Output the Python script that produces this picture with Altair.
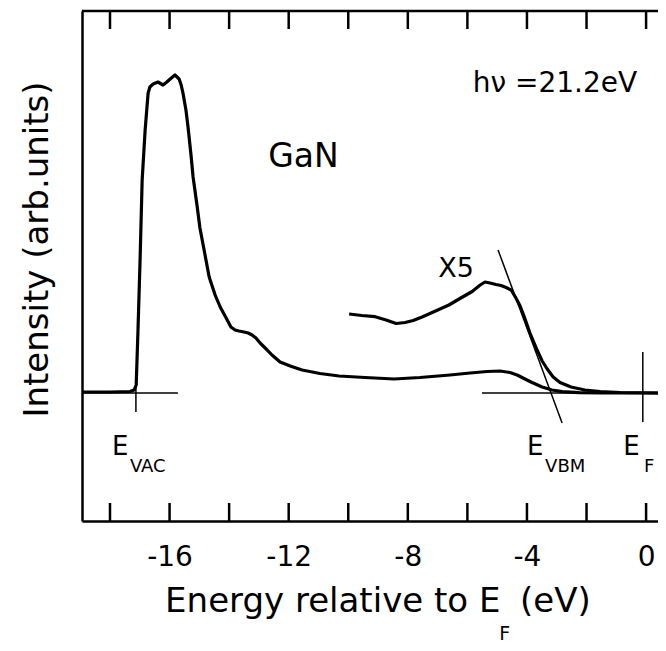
import altair as alt
import pandas as pd

# ---- data (energy in eV, intensity in arb. units) ----
energy_main = [-18.94, -18.00, -17.33, -17.19, -17.12, -17.06, -16.99, -16.92, -16.82, -16.72,
               -16.66, -16.55, -16.39, -16.22, -16.09, -15.98, -15.82, -15.68, -15.61, -15.55,
               -15.45, -15.38, -15.28, -15.21, -15.08, -14.98, -14.84, -14.67, -14.47, -14.30,
               -14.10, -13.94, -13.80, -13.67, -13.50, -13.36, -13.23, -13.10, -12.96, -12.79,
               -12.56, -12.29, -11.95, -11.55, -10.95, -10.31, -9.44, -8.46, -7.59, -6.58,
               -5.91, -5.34, -4.90, -4.57, -4.33, -4.10, -3.83, -3.49, -3.16, -2.82,
               -2.25, -1.54, -0.87, 0.40]
intensity_main = [0.01, 0.01, 0.015, 0.03, 0.08, 0.63, 1.33, 2.13, 2.63, 3.00,
                  3.06, 3.09, 3.11, 3.08, 3.11, 3.14, 3.18, 3.14, 3.08, 3.00,
                  2.83, 2.66, 2.38, 2.16, 1.88, 1.65, 1.43, 1.16, 0.98, 0.86,
                  0.75, 0.66, 0.63, 0.62, 0.61, 0.60, 0.58, 0.55, 0.50, 0.45,
                  0.38, 0.31, 0.27, 0.23, 0.195, 0.17, 0.155, 0.14, 0.155, 0.18,
                  0.20, 0.215, 0.22, 0.205, 0.18, 0.145, 0.105, 0.06, 0.03, 0.013,
                  0.004, 0.0, 0.0, 0.0]

energy_x5 = [-9.97, -9.54, -9.10, -8.73, -8.39, -8.09, -7.82, -7.52, -7.22, -6.92,
             -6.62, -6.25, -5.84, -5.57, -5.41, -5.24, -5.04, -4.87, -4.70, -4.53,
             -4.37, -4.23, -4.10, -3.90, -3.66, -3.49, -3.32, -3.12, -2.89, -2.52,
             -2.05, -1.54, -0.87, 0.40]
intensity_x5 = [0.79, 0.775, 0.763, 0.73, 0.695, 0.705, 0.725, 0.76, 0.80, 0.84,
                0.88, 0.945, 1.015, 1.08, 1.11, 1.10, 1.085, 1.075, 1.055, 1.03,
                0.95, 0.87, 0.77, 0.60, 0.43, 0.32, 0.24, 0.16, 0.105, 0.06,
                0.03, 0.015, 0.005, 0.0]

tangent_energy = [-4.97, -2.82]
tangent_intensity = [1.43, -0.30]

tick_values = [-18, -16, -14, -12, -10, -8, -6, -4, -2, 0]
label_values = [-16, -12, -8, -4, 0]

X_DOM = [-18.94, 0.40]
Y_DOM = [-1.28, 3.82]
FONT = "DejaVu Sans"
TICK_LEN = 0.18

xs = alt.Scale(domain=X_DOM, nice=False, zero=False)
ys = alt.Scale(domain=Y_DOM, nice=False, zero=False)

main_df = pd.DataFrame({"E": energy_main, "I": intensity_main})
x5_df = pd.DataFrame({"E": energy_x5, "I": intensity_x5})
tan_df = pd.DataFrame({"E": tangent_energy, "I": tangent_intensity})
tick_df = pd.DataFrame({"E": tick_values})

x_axis = alt.Axis(values=label_values, ticks=False, grid=False, domain=True,
                  domainWidth=2.5, domainColor="black", labelFont=FONT,
                  labelFontSize=28, labelColor="black", labelPadding=22,
                  labelExpr="toString(datum.value)", title=None)
y_axis = alt.Axis(ticks=False, labels=False, grid=False, domain=True,
                  domainWidth=2.5, domainColor="black",
                  title="Intensity  (arb.units)", titleFont=FONT, titleFontSize=34,
                  titleFontWeight="normal", titleColor="black", titleAngle=270,
                  titleAlign="center", titleBaseline="middle", titleX=-45, titleY=238)

main = alt.Chart(main_df).mark_line(color="black", strokeWidth=3.2, strokeJoin="round").encode(
    x=alt.X("E:Q", scale=xs, axis=x_axis),
    y=alt.Y("I:Q", scale=ys, axis=y_axis),
)
x5 = alt.Chart(x5_df).mark_line(color="black", strokeWidth=3.2, strokeJoin="round").encode(
    x=alt.X("E:Q", scale=xs), y=alt.Y("I:Q", scale=ys))
tangent = alt.Chart(tan_df).mark_line(color="black", strokeWidth=1.5).encode(
    x=alt.X("E:Q", scale=xs), y=alt.Y("I:Q", scale=ys))


def seg(x1, y1, x2, y2, w=1.5):
    return alt.Chart(pd.DataFrame({"a": [0]})).mark_rule(color="black", strokeWidth=w).encode(
        x=alt.datum(x1), y=alt.datum(y1), x2=alt.datum(x2), y2=alt.datum(y2))


marks = [
    seg(X_DOM[0], 0, -15.72, 0),          # left baseline marker
    seg(-17.13, 0.2, -17.13, -0.19),      # E_VAC vertical
    seg(-5.51, 0, X_DOM[1], 0),           # right baseline marker
    seg(-0.11, 0.41, -0.11, -0.29),       # E_F vertical
]

top_line = alt.Chart(pd.DataFrame({"a": [0]})).mark_rule(color="black", strokeWidth=2.5).encode(
    y=alt.datum(Y_DOM[1]))
ticks_bottom = alt.Chart(tick_df).mark_rule(color="black", strokeWidth=2.5).encode(
    x=alt.X("E:Q", scale=xs), y=alt.datum(Y_DOM[0]), y2=alt.datum(Y_DOM[0] + TICK_LEN))
ticks_top = alt.Chart(tick_df).mark_rule(color="black", strokeWidth=2.5).encode(
    x=alt.X("E:Q", scale=xs), y=alt.datum(Y_DOM[1]), y2=alt.datum(Y_DOM[1] - TICK_LEN))


def txt(s, x, y, size, align="left"):
    return alt.Chart(pd.DataFrame({"t": [s]})).mark_text(
        font=FONT, fontSize=size, align=align, baseline="alphabetic", color="black").encode(
        x=alt.datum(x), y=alt.datum(y), text="t:N")


texts = [
    txt("hν =21.2eV", -0.30, 3.01, 28, "right"),
    txt("GaN", -12.69, 2.26, 33),
    txt("X5", -6.98, 1.16, 27),
    txt("E", -17.93, -0.62, 26), txt("VAC", -17.33, -0.79, 18),
    txt("E", -4.00, -0.62, 26), txt("VBM", -3.39, -0.79, 18),
    txt("E", -0.77, -0.62, 26), txt("F", -0.07, -0.79, 18),
    txt("Energy relative to E", -16.15, -2.19, 34),
    txt("F", -4.93, -2.47, 19),
    txt("(eV)", -4.23, -2.19, 34),
]

chart = alt.layer(main, x5, tangent, *marks, top_line, ticks_bottom, ticks_top, *texts).properties(
    width=576, height=510,
    autosize=alt.AutoSizeParams(type="none"),
    padding={"left": 74, "top": 3, "right": 0, "bottom": 122},
).configure_view(stroke=None).configure(background="white")

chart.save("out.html", embed_options={"renderer": "svg", "actions": False})
